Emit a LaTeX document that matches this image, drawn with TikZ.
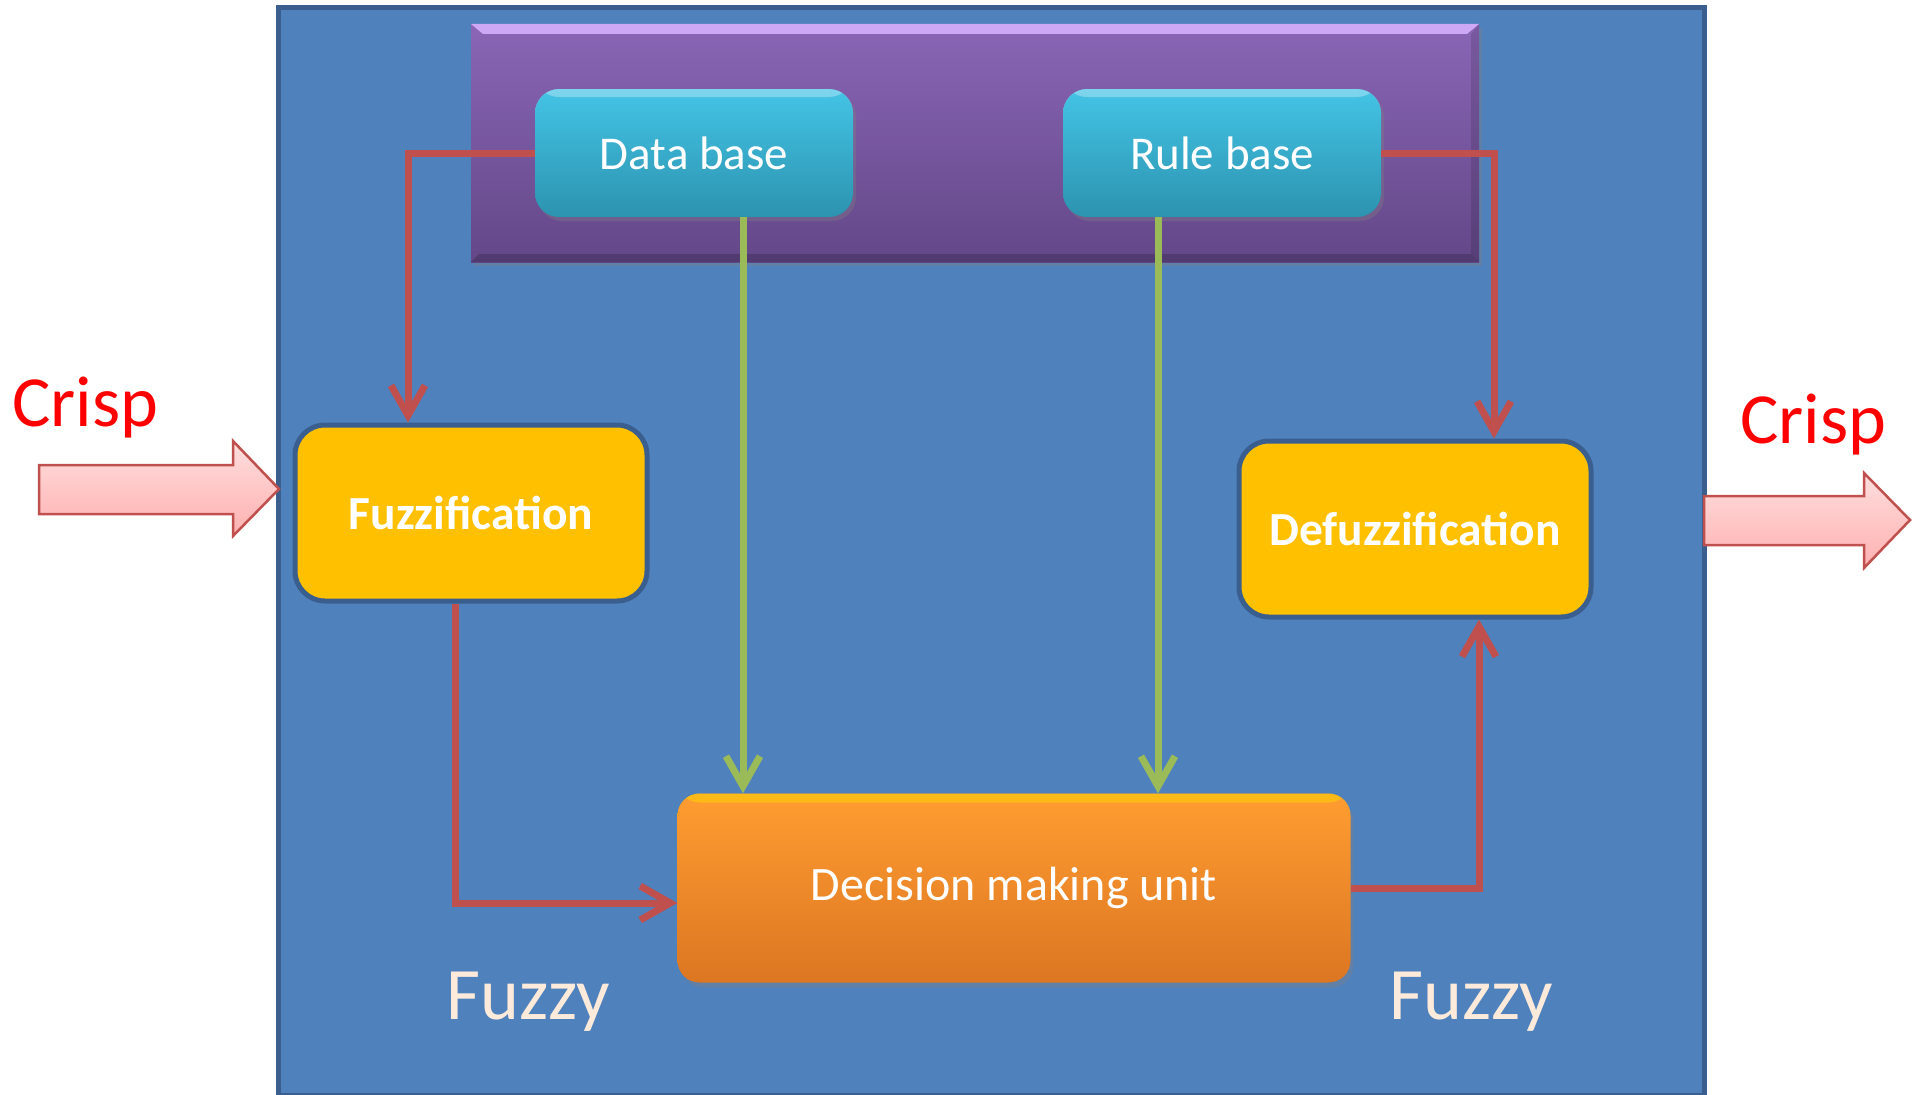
\documentclass[tikz,border=0pt]{standalone}
\usepackage{fontspec}
\setmainfont{Carlito}
\usetikzlibrary{arrows.meta,shadows}

\definecolor{panelblue}{HTML}{4F81BD}
\definecolor{paneledge}{HTML}{3A5F8E}
\definecolor{storetop}{HTML}{8A66B6}
\definecolor{storebot}{HTML}{634788}
\definecolor{bevellight}{HTML}{CDA8F5}
\definecolor{cyantop}{HTML}{44C4E6}
\definecolor{cyanbot}{HTML}{2C93AF}
\definecolor{stagefill}{HTML}{FFC000}
\definecolor{unittop}{HTML}{FF9D31}
\definecolor{unitbot}{HTML}{DC7622}
\definecolor{linkred}{HTML}{C0504D}
\definecolor{linkgreen}{HTML}{9BBB59}
\definecolor{crispred}{HTML}{FF0000}
\definecolor{fuzzycream}{HTML}{FDEADA}
\definecolor{pinktop}{HTML}{FFDEDE}
\definecolor{pinkbot}{HTML}{FFB0B0}

\tikzset{
  panel/.style={draw=paneledge, line width=5pt, fill=panelblue, inner sep=0pt},
  store/.style={inner sep=0pt, top color=storetop, bottom color=storebot,
    drop shadow={shadow xshift=3pt, shadow yshift=-4pt, opacity=0.35}},
  basebox/.style={inner sep=0pt, rounded corners=24pt, top color=cyantop, bottom color=cyanbot,
    text=white, font=\fontsize{47}{50}\selectfont,
    minimum width=318pt, minimum height=128pt,
    drop shadow={shadow xshift=3pt, shadow yshift=-4pt, opacity=0.35},
    path picture={\fill[white, opacity=0.3] (path picture bounding box.north west)
      rectangle ([yshift=-8pt]path picture bounding box.north east);}},
  stagebox/.style={inner sep=0pt, rounded corners=30pt, fill=stagefill, draw=paneledge,
    line width=5pt, text=white, font=\fontsize{47.5}{50}\selectfont\bfseries,
    minimum width=352pt, minimum height=176pt},
  unitbox/.style={inner sep=0pt, rounded corners=22pt, top color=unittop, bottom color=unitbot,
    text=white, font=\fontsize{48}{50}\selectfont,
    minimum width=673pt, minimum height=189pt,
    drop shadow={shadow xshift=3pt, shadow yshift=-5pt, opacity=0.35},
    path picture={\fill[yellow!70!orange, opacity=0.55] (path picture bounding box.north west)
      rectangle ([yshift=-9pt]path picture bounding box.north east);}},
  redlink/.style={draw=linkred, line width=7pt,
    -{Straight Barb[length=30pt, width=34pt, line width=7pt]}},
  greenlink/.style={draw=linkgreen, line width=7pt,
    -{Straight Barb[length=30pt, width=34pt, line width=7pt]}},
  crisplabel/.style={text=crispred, font=\fontsize{72}{76}\selectfont, inner sep=0pt},
  fuzzylabel/.style={text=fuzzycream, font=\fontsize{74}{78}\selectfont, inner sep=0pt},
  blockarrow/.style={draw=linkred, line width=2.5pt, top color=pinktop, bottom color=pinkbot}
}

\begin{document}
\begin{tikzpicture}[x=1pt, y=-1pt]
\useasboundingbox (0,0) rectangle (1920,1095);
\fill[white] (0,0) rectangle (1920,1095);

% system panel
\node[panel, minimum width=1426pt, minimum height=1088pt] (panel) at (991,551) {};

% knowledge base block with its bevel
\node[store, minimum width=1008pt, minimum height=238pt] (kb) at (975,143) {};
\fill[bevellight] (kb.north west) -- (kb.north east) -- ([xshift=-12pt,yshift=-10pt]kb.north east)
  -- ([xshift=12pt,yshift=-10pt]kb.north west) -- cycle;
\fill[black, opacity=0.18] (kb.south west) -- (kb.south east) -- ([xshift=-8pt,yshift=8pt]kb.south east)
  -- ([xshift=8pt,yshift=8pt]kb.south west) -- cycle;
\fill[black, opacity=0.12] (kb.north east) -- (kb.south east) -- ([xshift=-8pt,yshift=8pt]kb.south east)
  -- ([xshift=-8pt,yshift=-10pt]kb.north east) -- cycle;

\node[basebox] (db) at (694,153) {Data base};
\node[basebox] (rb) at (1222,153) {Rule base};

\node[stagebox] (fz) at (471,513) {Fuzzification};
\node[stagebox] (df) at (1415,529) {Defuzzification};

\node[unitbox] (dm) at (1014,888) {Decision making unit};

% connectors
\draw[redlink] (db.west) -| ([xshift=-63pt]fz.north);
\draw[redlink] (rb.east) -| ([xshift=79pt]df.north);
\draw[redlink] ([xshift=-16pt]fz.south) |- ([yshift=-15pt]dm.west);
\draw[redlink] (dm.east) -| ([xshift=64pt]df.south);
\draw[greenlink] ([xshift=49pt]db.south) -- ([xshift=49pt]db.south |- dm.north);
\draw[greenlink] ([xshift=-64pt]rb.south) -- ([xshift=-64pt]rb.south |- dm.north);

% crisp input and output arrows
\draw[blockarrow] (39,465) -- (233,465) -- (233,441) -- (279,489) -- (233,536)
  -- (233,514) -- (39,514) -- cycle;
\draw[blockarrow] (1704,496) -- (1864,496) -- (1864,473) -- (1910,520) -- (1864,568)
  -- (1864,545) -- (1704,545) -- cycle;

% labels
\node[crisplabel, anchor=base west] (crispin) at (12,426) {Crisp};
\node[crisplabel, anchor=base west] (crispout) at (1740,443) {Crisp};
\node[fuzzylabel, anchor=base west] (fuzzyin) at (446,1019) {Fuzzy};
\node[fuzzylabel, anchor=base west] (fuzzyout) at (1389,1019) {Fuzzy};
\end{tikzpicture}
\end{document}
